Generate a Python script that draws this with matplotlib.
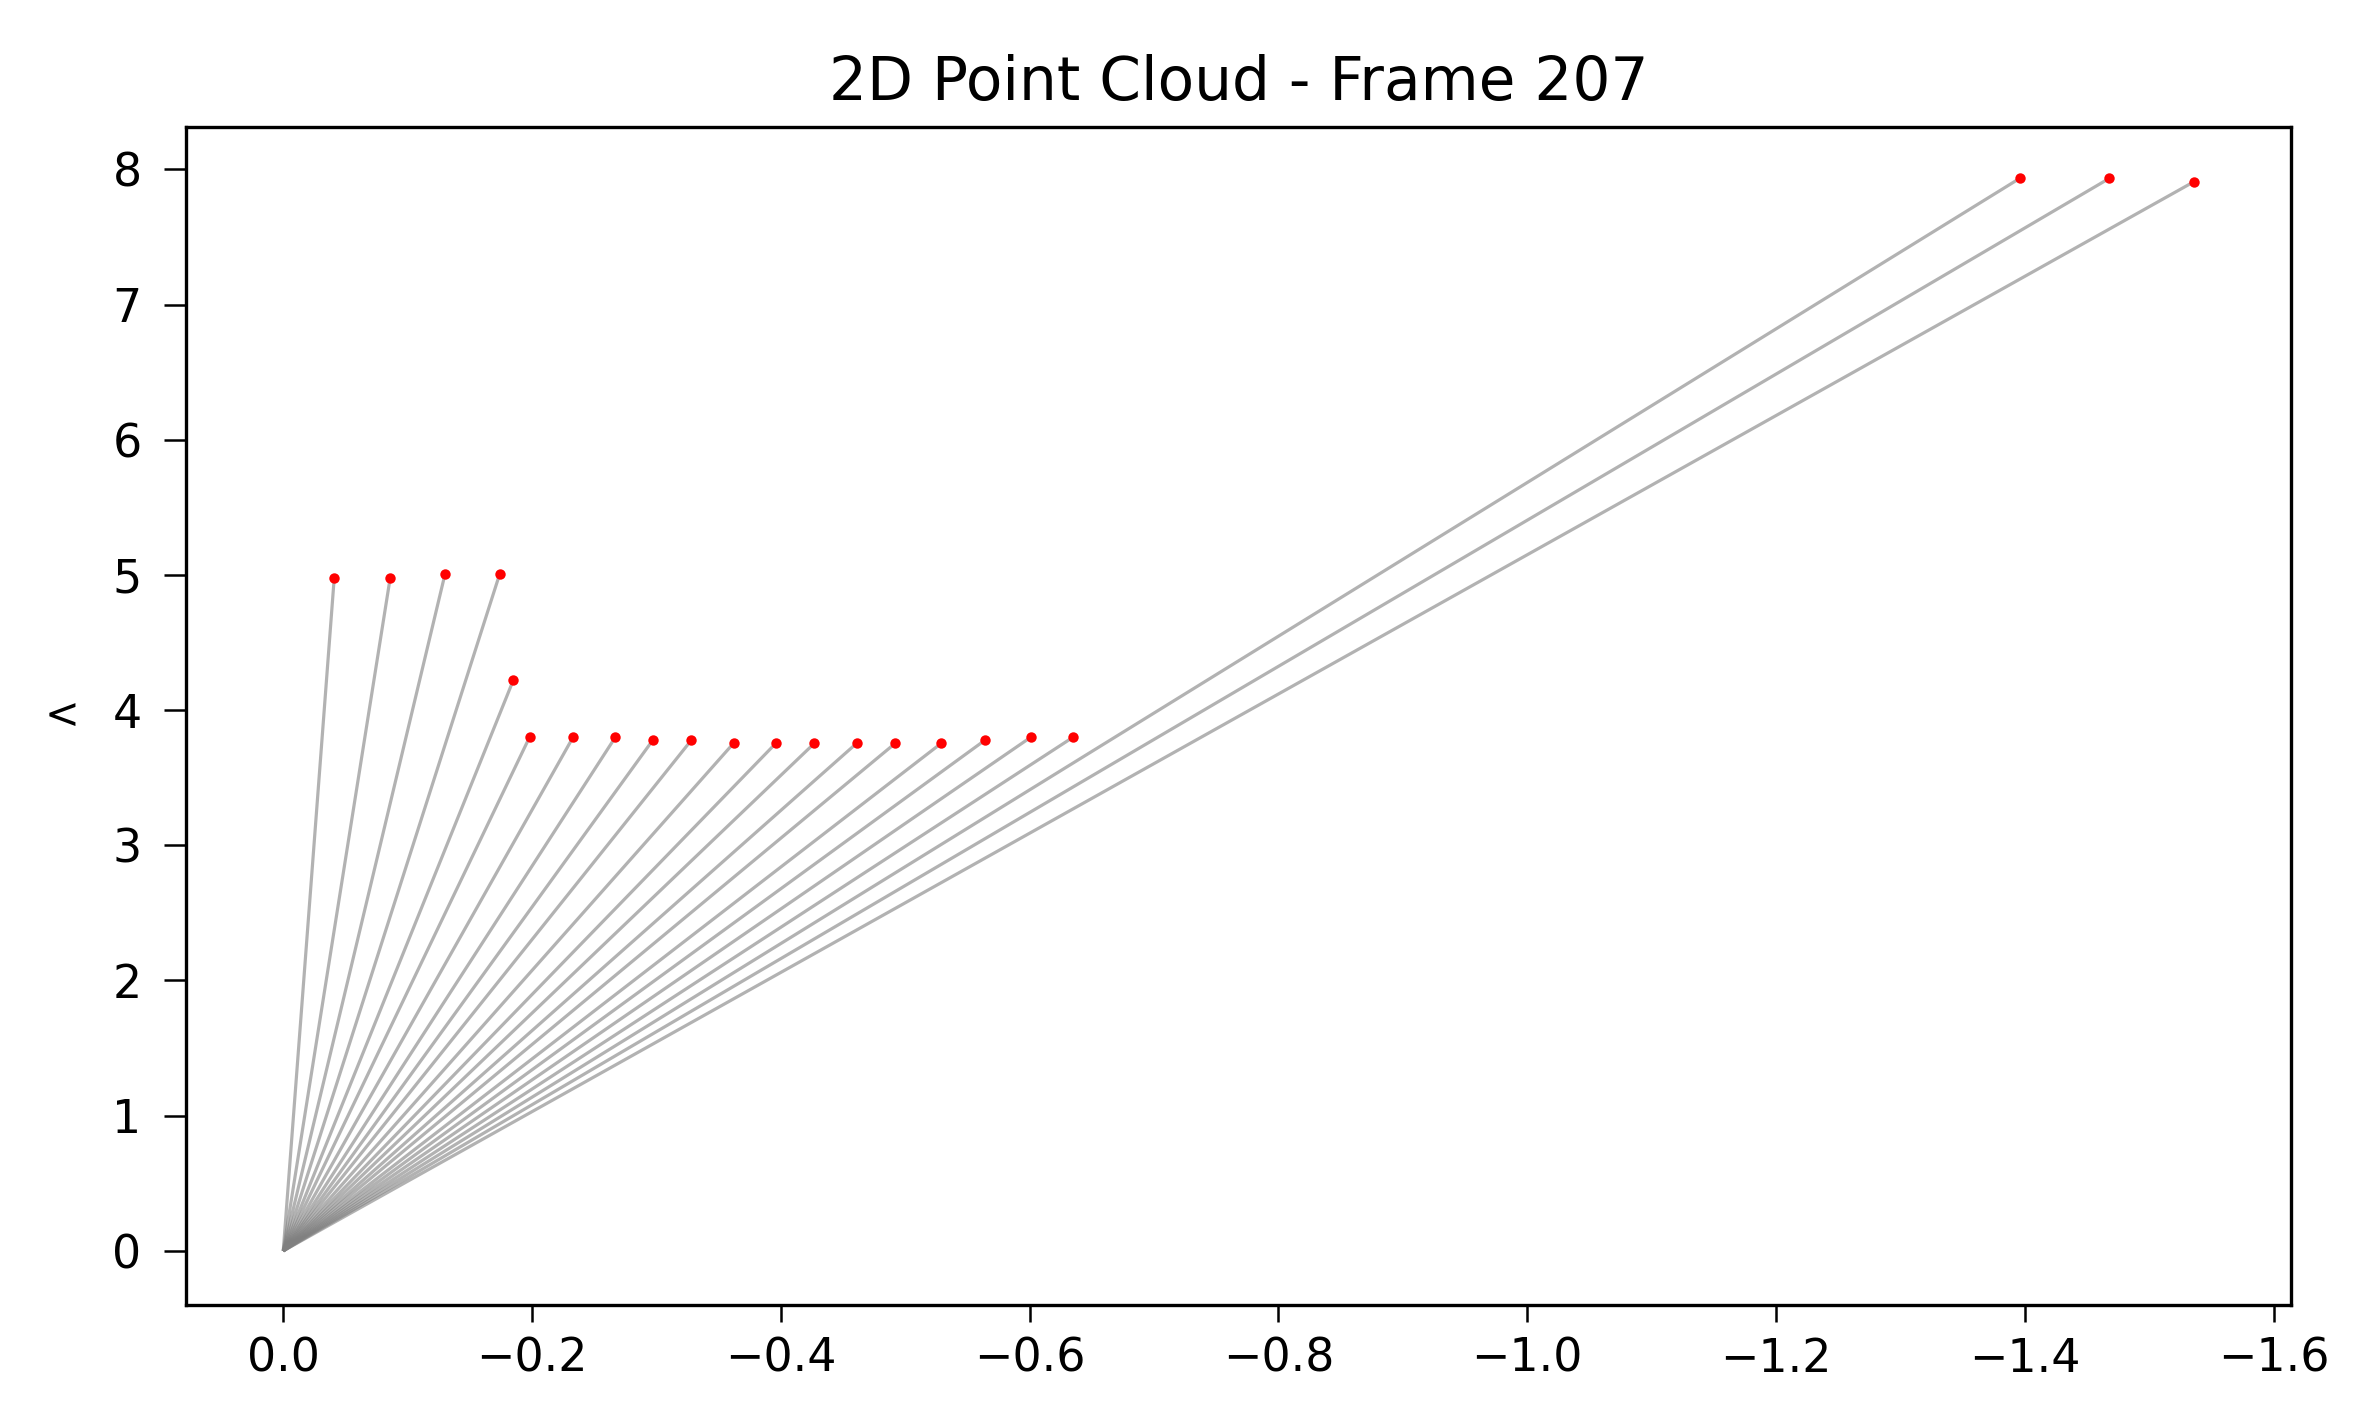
import matplotlib
matplotlib.use("Agg")
import matplotlib.pyplot as plt
import numpy as np

# Point cloud data (x, y)
point_x = [-0.041, -0.086, -0.130, -0.174, -0.185, -0.198, -0.233, -0.267,
           -0.297, -0.328, -0.362, -0.396, -0.427, -0.461, -0.492, -0.529,
           -0.564, -0.601, -0.635, -1.396, -1.468, -1.536]
point_y = [4.98, 4.98, 5.005, 5.007, 4.223, 3.800, 3.800, 3.800,
           3.777, 3.777, 3.755, 3.755, 3.755, 3.755, 3.755, 3.755,
           3.777, 3.800, 3.800, 7.934, 7.934, 7.909]
origin = (0.0, 0.0)
title = "2D Point Cloud - Frame 207"
y_label = "<"
x_ticks = [0.0, -0.2, -0.4, -0.6, -0.8, -1.0, -1.2, -1.4, -1.6]
y_ticks = [0, 1, 2, 3, 4, 5, 6, 7, 8]

fig = plt.figure(figsize=(23.72, 14.08), dpi=100)
ax = fig.add_axes([0.0784, 0.0732, 0.9659 - 0.0784, 0.9096 - 0.0732])

for x, y in zip(point_x, point_y):
    ax.plot([origin[0], x], [origin[1], y], color="gray", alpha=0.6,
            linewidth=2.3, solid_capstyle="butt")
ax.plot(point_x, point_y, "o", color="red", markersize=7.5,
        markeredgewidth=0)

ax.set_xlim(0.0782, -1.614)
ax.set_ylim(-0.40, 8.311)
ax.set_xticks(x_ticks)
ax.set_yticks(y_ticks)

ax.set_title(title, fontsize=43, pad=20)
ax.set_ylabel(y_label, fontsize=30, rotation=0, labelpad=36, va="center")

ax.tick_params(axis="x", labelsize=33, length=12, width=1.8, pad=11)
ax.tick_params(axis="y", labelsize=33, length=16, width=1.8, pad=16)
for s in ax.spines.values():
    s.set_linewidth(2.4)

fig.savefig("out.png", dpi=100)
